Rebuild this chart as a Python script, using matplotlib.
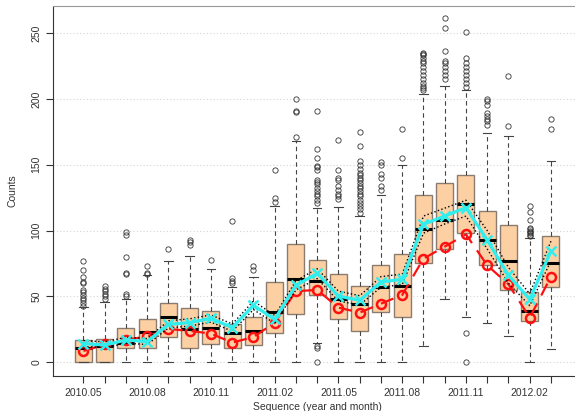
import matplotlib
matplotlib.use("Agg")
import matplotlib.pyplot as plt

plt.rcParams["font.family"] = ["Liberation Sans", "DejaVu Sans"]

months = ["2010.05", "2010.06", "2010.07", "2010.08", "2010.09", "2010.10",
          "2010.11", "2010.12", "2011.01", "2011.02", "2011.03", "2011.04",
          "2011.05", "2011.06", "2011.07", "2011.08", "2011.09", "2011.10",
          "2011.11", "2011.12", "2012.01", "2012.02", "2012.03"]

# per-month box statistics
whislo = [0, 0, 0, 0, 0, 0, 0, 0, 0, 0, 0, 15, 0, 0, 0, 0, 12, 48, 34, 30, 20, 0, 10]
q1 = [0, 0, 11, 11, 19, 11, 14, 11, 13, 22, 37, 51, 33, 24, 38, 34, 75, 86, 98, 74, 55, 31, 57]
med = [11, 12, 15, 23, 34, 25, 26, 22, 24, 38, 63, 62, 48, 44, 57, 58, 101, 108, 120, 93, 77, 39, 75]
q3 = [17, 18, 26, 33, 45, 41, 39, 29, 34, 61, 90, 78, 67, 58, 74, 82, 127, 136, 142, 115, 104, 53, 96]
whishi = [42, 46, 48, 66, 77, 81, 71, 57, 65, 119, 168, 117, 118, 111, 127, 150, 204, 210, 207, 174, 172, 94, 153]
fliers = [
    [43, 45, 47, 49, 51, 53, 55, 60, 61, 65, 70, 77],
    [48, 50, 52, 54, 56, 58],
    [50, 52, 67, 68, 80, 97, 99],
    [67, 68, 73],
    [86],
    [89, 91, 93],
    [78],
    [60, 62, 64, 107],
    [70, 73],
    [122, 125, 146],
    [171, 190, 191, 200],
    [0, 11, 12, 121, 123, 126, 128, 130, 132, 135, 137, 138, 146, 148, 149, 155, 162, 191],
    [124, 126, 128, 131, 134, 138, 140, 146, 169],
    [113, 116, 119, 121, 123, 126, 128, 130, 132, 134, 136, 138, 140, 142, 144,
     147, 150, 153, 164, 175],
    [131, 134, 140, 143, 150, 152],
    [155, 177],
    [207, 208, 210, 212, 215, 218, 221, 224, 227, 229, 231, 233, 234, 235],
    [215, 218, 221, 224, 227, 229, 236, 254, 261],
    [0, 22, 209, 212, 215, 218, 221, 224, 227, 231, 251],
    [180, 183, 185, 187, 189, 195, 198, 200],
    [179, 217],
    [96, 97, 98, 99, 100, 101, 102, 108, 114, 119],
    [177, 185],
]

# fitted curve with its band, and observed values
fit = [14.2, 13.1, 16.9, 15.7, 28.8, 30.1, 33.4, 26.3, 43.2, 32.6, 58.4, 67.5,
       50.3, 47.0, 61.0, 63.0, 104.7, 111.0, 117.4, 92.8, 66.0, 47.8, 84.4]
fit_hi = [16.5, 15.5, 19.0, 18.0, 31.5, 33.0, 36.0, 29.0, 46.5, 35.5, 62.0, 71.0,
          54.0, 50.5, 65.0, 67.0, 111.0, 117.0, 123.0, 100.0, 72.0, 52.0, 92.0]
fit_lo = [12.0, 11.0, 14.5, 13.5, 26.0, 27.5, 30.5, 23.5, 40.0, 29.5, 55.0, 63.5,
          46.5, 43.5, 57.0, 59.0, 98.0, 105.0, 111.0, 86.0, 60.0, 43.0, 77.0]
observed = [8.6, 13.5, 16.9, 19.8, 25.3, 23.8, 21.8, 14.9, 19.2, 30.1, 54.0, 54.9,
            41.5, 37.7, 44.5, 51.1, 78.7, 87.8, 97.1, 73.6, 59.2, 33.9, 65.0]

pos = list(range(1, len(months) + 1))

fig = plt.figure(figsize=(5.75, 4.11), dpi=100)
ax = fig.add_axes([0.0927, 0.0852, 0.918, 0.900])

for v in range(0, 251, 50):
    ax.axhline(v, color="#d4d4d4", lw=0.8, ls=(0, (1, 2)), zorder=0)

stats = []
for i in range(len(months)):
    stats.append(dict(whislo=whislo[i], q1=q1[i], med=med[i], q3=q3[i],
                      whishi=whishi[i], fliers=fliers[i]))

ax.bxp(stats, positions=pos, widths=0.8, patch_artist=True, showfliers=True,
       boxprops=dict(facecolor="#fdd0a4", edgecolor="#8c7c70", lw=1.0),
       medianprops=dict(color="black", lw=2.2),
       whiskerprops=dict(color="#444444", lw=0.8, ls=(0, (4, 3))),
       capprops=dict(color="#444444", lw=0.8),
       capwidths=0.4,
       flierprops=dict(marker="o", markersize=3.8, markerfacecolor="none",
                       markeredgecolor="#333333", markeredgewidth=0.6))

ax.plot(pos, observed, color="#ff1010", lw=1.6, ls=(0, (6, 4)), marker="o",
        markersize=6.5, markerfacecolor="none", markeredgewidth=1.8, zorder=4)
ax.plot(pos, fit_hi, color="black", lw=1.0, ls=":", zorder=5)
ax.plot(pos, fit_lo, color="black", lw=1.0, ls=":", zorder=5)
ax.plot(pos, fit, color="#30eeee", lw=2.3, marker="x", markersize=6.5,
        markeredgewidth=1.8, zorder=6)

ax.set_xlim(-0.42, 24.42)
ax.set_ylim(-10.4, 270.4)

ax.set_xticks(pos)
ax.set_xticklabels([m if i % 3 == 0 else "" for i, m in enumerate(months)])
ax.set_yticks(range(0, 251, 50))
ax.tick_params(axis="both", direction="out", length=5, width=0.8, labelsize=7.5,
               colors="#333333")
plt.setp(ax.get_yticklabels(), rotation=90, va="center")

ax.spines["right"].set_visible(False)
ax.spines["top"].set_color("#999999")
ax.spines["left"].set_color("#333333")
ax.spines["bottom"].set_color("#333333")

ax.set_xlabel("Sequence (year and month)", fontsize=7.5, color="#333333", labelpad=3)
ax.set_ylabel("Counts", fontsize=7.5, color="#333333", labelpad=10)

fig.savefig("out.png", dpi=100)
